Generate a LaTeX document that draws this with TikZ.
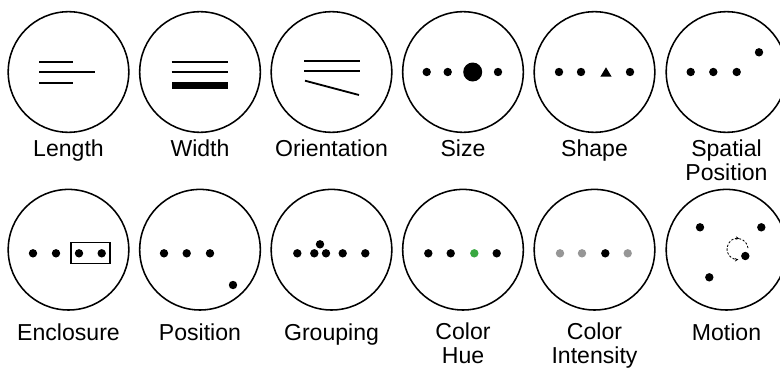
\documentclass[tikz,border=0pt]{standalone}
\usepackage{fontspec}
\setmainfont{Liberation Sans}
\usetikzlibrary{arrows.meta}
\definecolor{huegreen}{RGB}{56,168,64}
\definecolor{fadegray}{RGB}{150,150,150}
\tikzset{
  ring/.style={line width=1.1pt},
  bar/.style={line width=1.3pt},
  cuelabel/.style={font=\fontsize{16.4}{16.6}\selectfont, align=center, anchor=base, inner sep=0pt},
}
\begin{document}
\begin{tikzpicture}[x=0.025cm,y=-0.025cm]
  \useasboundingbox (0,0) rectangle (780,368);
  \clip (0,0) rectangle (780,368);
  % the twelve rings
  \foreach \cx in {68.5,200,331.5,463,594.5,726.5} {
    \draw[ring] (\cx,72) circle (60.3);
    \draw[ring] (\cx,249.7) circle (60.3);
  }
  % length
  \draw[bar] (39.3,62)--(72.7,62);
  \draw[bar] (39.3,72)--(95,72);
  \draw[bar] (39.3,83)--(72.7,83);
  % width
  \draw[bar] (171.7,62)--(227.7,62);
  \draw[bar] (171.7,72)--(227.7,72);
  \fill (171.7,81.7) rectangle (227.7,89);
  % orientation
  \draw[bar] (304.3,60.7)--(360,60.7);
  \draw[bar] (304.3,70.7)--(360,70.7);
  \draw[bar] (305,80.7)--(359,95);
  % size
  \foreach \x in {426.7,447.7,498} \fill (\x,72) circle (4.2);
  \fill (472.7,72) circle (9.5);
  % shape
  \foreach \x in {559,581,630} \fill (\x,72) circle (4.2);
  \fill (606,67.3)--(611.6,76.6)--(600.4,76.6)--cycle;
  % spatial position
  \foreach \x in {690.7,713.3,736.7} \fill (\x,72) circle (4.2);
  \fill (759,52.3) circle (4.2);
  % enclosure
  \foreach \x in {33,56,79,101.7} \fill (\x,253.3) circle (4.2);
  \draw[line width=0.8pt] (71,242.3) rectangle (110,263.3);
  % position
  \foreach \x in {164,186.7,210} \fill (\x,253.3) circle (4.2);
  \fill (233,285) circle (4.2);
  % grouping
  \foreach \x in {297.3,314.3,326,342.7,365.3} \fill (\x,253.3) circle (4.2);
  \fill (320,244.3) circle (4.2);
  % color hue
  \foreach \x in {428.3,450.7,496.7} \fill (\x,253.3) circle (4.2);
  \fill[huegreen] (474.3,253.3) circle (4.2);
  % color intensity
  \foreach \x in {560,582,627.7} \fill[fadegray] (\x,253.3) circle (4.2);
  \fill (605.3,253.3) circle (4.2);
  % motion
  \foreach \x/\y in {700/227.3,761.3/227.3,709.3/277.3,745.3/256} \fill (\x,\y) circle (4.2);
  \coordinate (spin) at (737.5,249);
  \draw[line width=0.6pt,dash pattern=on 1.6pt off 1.2pt] (spin) ++(-5:10.5) arc (-5:-80:10.5);
  \draw[line width=0.6pt,dash pattern=on 1.6pt off 1.2pt,{Stealth[length=2.6pt,width=2.4pt]}-{Stealth[length=2.6pt,width=2.4pt]}]
    (spin) ++(-80:10.5) arc (-80:-275:10.5);
  % labels (base = last line)
  \node[cuelabel] (l-len) at (68.5,156.7) {Length};
  \node[cuelabel] (l-wid) at (200,156.7) {Width};
  \node[cuelabel] (l-ori) at (331.5,156.7) {Orientation};
  \node[cuelabel] (l-siz) at (463,156.7) {Size};
  \node[cuelabel] (l-sha) at (594.5,156.7) {Shape};
  \node[cuelabel] (l-spa) at (726.5,180) {Spatial\\Position};
  \node[cuelabel] (l-enc) at (68.5,340) {Enclosure};
  \node[cuelabel] (l-pos) at (200,340) {Position};
  \node[cuelabel] (l-gro) at (331.5,340) {Grouping};
  \node[cuelabel] (l-hue) at (463,363.3) {Color\\Hue};
  \node[cuelabel] (l-int) at (594.5,363.3) {Color\\Intensity};
  \node[cuelabel] (l-mot) at (726.5,340) {Motion};
\end{tikzpicture}
\end{document}
